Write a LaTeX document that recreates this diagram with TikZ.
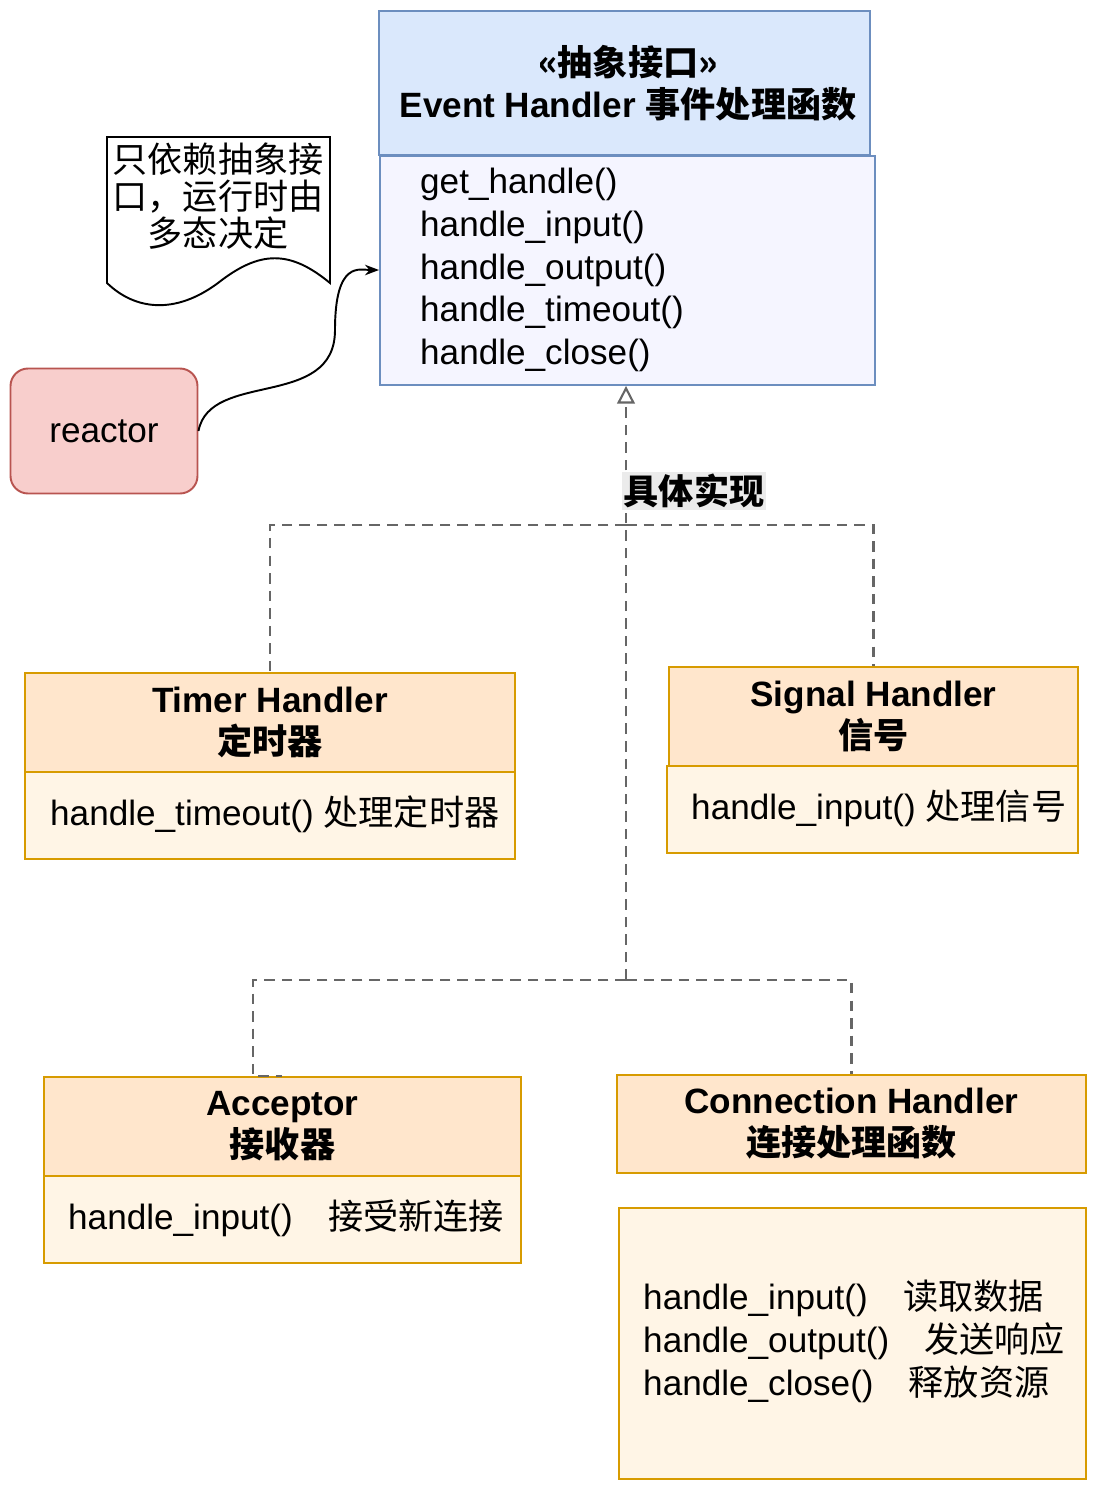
\documentclass[tikz,border=0pt]{standalone}
\usepackage{fontspec}
\setmainfont{Liberation Sans}
\newfontfamily\cjk{Noto Sans CJK SC}
\usetikzlibrary{positioning, calc, arrows.meta}
\definecolor{hdblue}{HTML}{DAE8FC}
\definecolor{bdblue}{HTML}{6C8EBF}
\definecolor{hdorange}{HTML}{FFE6CC}
\definecolor{bdorange}{HTML}{D79B00}
\definecolor{bgorange}{HTML}{FFF5E6}
\definecolor{hdred}{HTML}{F8CECC}
\definecolor{bdred}{HTML}{B85450}
\tikzset{header/.style={draw=bdorange, fill=hdorange, line width=1.1pt, align=center, font=\fontsize{20}{24}\selectfont\bfseries}}
\tikzset{body/.style={draw=bdorange, fill=bgorange, line width=1.1pt}}
\tikzset{impl/.style={draw=black!60, line width=1.2pt, dash pattern=on 6pt off 4pt}}
\tikzset{txt/.style={anchor=west, align=left, font=\fontsize{20}{24.5}\selectfont}}
\begin{document}
\begin{tikzpicture}[x=0.02cm, y=-0.02cm]
  \useasboundingbox (0,0) rectangle (1097,1491);
  % abstract interface
  \draw[draw=bdblue, fill=hdblue, line width=1.1pt] (379,11) rectangle (870,155);
  \node[font=\fontsize{20}{24}\selectfont\bfseries, align=center] (ehtitle) at (628,83) {{\cjk «抽象接口»}\\Event Handler {\cjk 事件处理函数}};
  \node[draw=bdblue, fill=blue!4, line width=1.1pt, minimum width=495*0.02cm, minimum height=229*0.02cm, anchor=north west] (eh) at (379,155) {};
  \node[txt, font=\fontsize{20}{24.3}\selectfont] (ehops) at (414,270) {get\_handle()\\handle\_input()\\handle\_output()\\handle\_timeout()\\handle\_close()};
  % note and client
  \draw[line width=1.1pt, fill=white] (107,137) -- (330,137) -- (330,283) .. controls (290,250) and (260,250) .. (218,283) .. controls (175,315) and (135,310) .. (107,283) -- cycle;
  \node[align=center, font=\fontsize{20}{21}\selectfont\cjk] (note) at (218,196) {只依赖抽象接\\口，运行时由\\多态决定};
  \node[draw=bdred, fill=hdred, line width=1.1pt, rounded corners=10pt, minimum width=187*0.02cm, minimum height=125*0.02cm, font=\fontsize{20}{24}\selectfont] (reactor) at (104,431) {reactor};
  \draw[-{Stealth[length=8pt]}, line width=1.1pt] (reactor.east) .. controls (210,370) and (335,410) .. (335,330) .. controls (335,260) and (360,270) .. (eh.west |- 0,270);
  % concrete handlers
  \node[header, minimum width=490*0.02cm, minimum height=99*0.02cm, anchor=north west] (timer) at (24,672) {Timer Handler\\{\cjk 定时器}};
  \node[body, minimum width=490*0.02cm, minimum height=87*0.02cm, anchor=north west] (timerb) at (24,771) {};
  \node[txt] at (44,814) {handle\_timeout() {\cjk 处理定时器}};
  \node[header, minimum width=409*0.02cm, minimum height=99*0.02cm, anchor=north west] (signal) at (668,666) {Signal Handler\\{\cjk 信号}};
  \node[body, minimum width=411*0.02cm, minimum height=87*0.02cm, anchor=north west] (signalb) at (666,765) {};
  \node[txt] at (685,808) {handle\_input() {\cjk 处理信号}};
  \node[header, minimum width=477*0.02cm, minimum height=99*0.02cm, anchor=north west] (acceptor) at (43,1076) {Acceptor\\{\cjk 接收器}};
  \node[body, minimum width=477*0.02cm, minimum height=87*0.02cm, anchor=north west] (acceptorb) at (43,1175) {};
  \node[txt] at (62,1218) {handle\_input()\quad{\cjk 接受新连接}};
  \node[header, minimum width=469*0.02cm, minimum height=98*0.02cm, anchor=north west] (conn) at (616,1074) {Connection Handler\\{\cjk 连接处理函数}};
  \node[body, minimum width=467*0.02cm, minimum height=271*0.02cm, anchor=north west] (connb) at (618,1207) {};
  \node[txt] at (637,1341) {handle\_input()\quad{\cjk 读取数据}\\handle\_output()\quad{\cjk 发送响应}\\handle\_close()\quad{\cjk 释放资源}};
  % realization
  \coordinate (split1) at (626,525);
  \coordinate (split2) at (626,980);
  \draw[impl, -{Triangle[open, length=10pt, width=10pt]}] (split2) -- (eh.south -| split1);
  \draw[impl] (split1) -| (timer.north);
  \draw[impl] (split1) -| (signal.north);
  \draw[impl] (split2) -| (acceptor.north -| 253,0) -- (acceptor.north);
  \draw[impl] (split2) -| (conn.north);
  \node[fill=black!8, inner sep=1pt, font=\fontsize{20}{24}\selectfont\bfseries\cjk] (impllbl) at (694,491) {具体实现};
\end{tikzpicture}
\end{document}
